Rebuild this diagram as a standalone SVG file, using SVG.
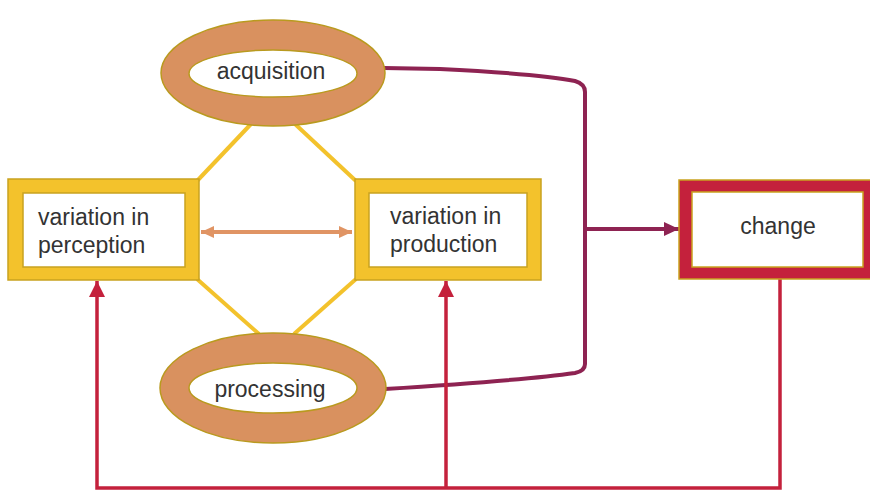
<svg xmlns="http://www.w3.org/2000/svg" width="870" height="490" viewBox="0 0 870 490">
<style>
.t{font-family:"Liberation Sans",Arial,sans-serif;font-size:23px;fill:#333;}
.yel{stroke:#f3c22c;stroke-width:4;fill:none;}
.red{stroke:#c4213c;stroke-width:3.5;fill:none;}
.pur{stroke:#8e2352;stroke-width:4;fill:none;}
.ring{fill:#d9915f;stroke:#b99a1f;stroke-width:1.5;}
.hole{fill:#fff;stroke:#b99a1f;stroke-width:1.5;}
</style>
<defs>
<marker id="ar" markerUnits="userSpaceOnUse" markerWidth="16" markerHeight="20" viewBox="0 0 16 20" refX="16" refY="10" orient="auto"><path d="M0,2 L16,10 L0,18 Z" fill="#c4213c"/></marker>
<marker id="ap" markerUnits="userSpaceOnUse" markerWidth="15" markerHeight="16" viewBox="0 0 15 16" refX="15" refY="8" orient="auto"><path d="M0,1 L15,8 L0,15 Z" fill="#8e2352"/></marker>
<marker id="ao" markerUnits="userSpaceOnUse" markerWidth="13" markerHeight="14" viewBox="0 0 13 14" refX="13" refY="7" orient="auto-start-reverse"><path d="M0,1 L13,7 L0,13 Z" fill="#e09464"/></marker>
</defs>
<g id="connectors">
<line class="yel" x1="197" y1="181" x2="251" y2="124"/>
<line class="yel" x1="295" y1="124" x2="356" y2="181"/>
<line class="yel" x1="197" y1="279" x2="259" y2="334"/>
<line class="yel" x1="356" y1="279" x2="294" y2="334"/>
<line x1="201" y1="232" x2="352" y2="232" stroke="#e09464" stroke-width="4" marker-start="url(#ao)" marker-end="url(#ao)"/>
<path class="pur" d="M384,68 L440,69 C500,72 550,76 575,81 Q585,84 585,92 L585,364 Q585,371 575,373 C540,378 480,383 385,389"/>
<line class="pur" x1="585" y1="229" x2="679" y2="229" marker-end="url(#ap)"/>
<path class="red" d="M780,279 L780,488 L97,488 L97,281" marker-end="url(#ar)"/>
<line class="red" x1="446" y1="488" x2="446" y2="281" marker-end="url(#ar)"/>
</g>
<g id="acquisition">
<ellipse class="ring" cx="273" cy="73" rx="112" ry="53"/>
<ellipse class="hole" cx="273" cy="73.5" rx="84" ry="23.5"/>
<text class="t" x="271" y="79" text-anchor="middle">acquisition</text>
</g>
<g id="processing">
<ellipse class="ring" cx="273" cy="388" rx="113" ry="55"/>
<ellipse class="hole" cx="273" cy="388" rx="84" ry="25"/>
<text class="t" x="270" y="397" text-anchor="middle">processing</text>
</g>
<g id="perception">
<rect x="8" y="179" width="191" height="101" fill="#f3c22c" stroke="#c9a21f" stroke-width="1.5"/>
<rect x="23" y="193" width="162" height="74" fill="#fff" stroke="#c9a21f" stroke-width="1.5"/>
<text class="t" x="38" y="225">variation in</text>
<text class="t" x="38" y="253">perception</text>
</g>
<g id="production">
<rect x="355" y="179" width="186" height="101" fill="#f3c22c" stroke="#c9a21f" stroke-width="1.5"/>
<rect x="369" y="193" width="158" height="74" fill="#fff" stroke="#c9a21f" stroke-width="1.5"/>
<text class="t" x="390" y="224">variation in</text>
<text class="t" x="390" y="252">production</text>
</g>
<g id="change">
<rect x="679" y="180" width="196" height="99" fill="#c4213c" stroke="#c9a21f" stroke-width="1.5"/>
<rect x="692" y="192" width="171" height="75" fill="#fff" stroke="#c9a21f" stroke-width="1.5"/>
<text class="t" x="778" y="234" text-anchor="middle">change</text>
</g>
</svg>
